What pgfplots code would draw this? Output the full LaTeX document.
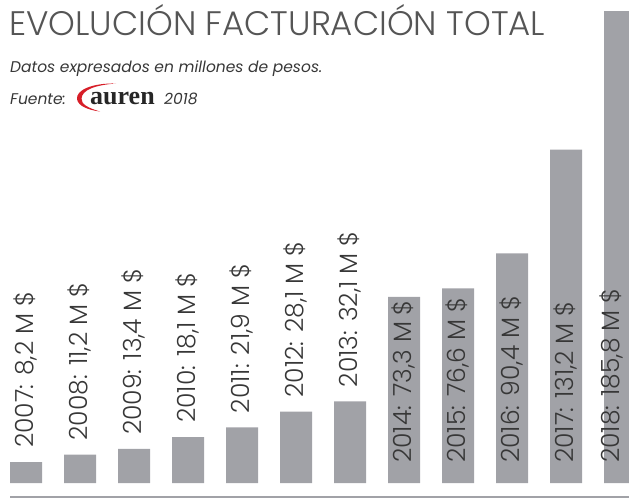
\documentclass[border=0pt]{standalone}
\usepackage{pgfplots}
\pgfplotsset{compat=1.18}
\usepackage{fontspec}
\setmainfont{Poppins}
\IfFontExistsTF{Poppins Light}{\newfontfamily\lightfont{Poppins Light}}{\newfontfamily\lightfont{Poppins}}
\newfontfamily\logofont{Liberation Serif}
\usetikzlibrary{calc}
\definecolor{bargray}{RGB}{161,162,167}
\definecolor{txt}{RGB}{55,55,55}
\definecolor{ttl}{RGB}{85,85,85}
\definecolor{aurenred}{RGB}{215,30,40}
\begin{document}
\begin{tikzpicture}
\useasboundingbox (0pt,0pt) rectangle (629pt,-499pt);
\begin{axis}[at={(10pt,-483pt)}, anchor=south west, scale only axis,
  width=619pt, height=472pt, hide axis,
  xmin=-0.2963, xmax=11.1667, ymin=0, ymax=185.8,
  bar width=0.5926, clip=true]
\addplot[ybar, fill=bargray, draw=none] coordinates {
 (0,8.2) (1,11.2) (2,13.4) (3,18.1) (4,21.9) (5,28.1) (6,32.1)
 (7,73.3) (8,76.6) (9,90.4) (10,131.2) (11,185.8)};
\tikzset{lbl/.style={rotate=90, anchor=west, inner sep=0pt, text=txt, font=\lightfont\fontsize{25}{25}\selectfont}}
\node[lbl] at ($(axis cs:0,8.2)+(-1pt,14pt)$) {2007: 8,2 M \$};
\node[lbl] at ($(axis cs:1,11.2)+(-1pt,14pt)$) {2008: 11,2 M \$};
\node[lbl] at ($(axis cs:2,13.4)+(-1pt,14pt)$) {2009: 13,4 M \$};
\node[lbl] at ($(axis cs:3,18.1)+(-1pt,14pt)$) {2010: 18,1 M \$};
\node[lbl] at ($(axis cs:4,21.9)+(-1pt,14pt)$) {2011: 21,9 M \$};
\node[lbl] at ($(axis cs:5,28.1)+(-1pt,14pt)$) {2012: 28,1 M \$};
\node[lbl] at ($(axis cs:6,32.1)+(-1pt,14pt)$) {2013: 32,1 M \$};
\node[lbl] at ($(axis cs:7,0)+(-1pt,20pt)$) {2014: 73,3 M \$};
\node[lbl] at ($(axis cs:8,0)+(-1pt,20pt)$) {2015: 76,6 M \$};
\node[lbl] at ($(axis cs:9,0)+(-1pt,20pt)$) {2016: 90,4 M \$};
\node[lbl] at ($(axis cs:10,0)+(-1pt,20pt)$) {2017: 131,2 M \$};
\node[lbl] at ($(axis cs:11,0)+(-8.5pt,20pt)$) {2018: 185,8 M \$};
\end{axis}
\draw[bargray, line width=2pt] (10pt,-497pt) -- (629pt,-497pt);
\node[anchor=base west, inner sep=0pt, text=ttl, font=\lightfont\fontsize{34}{34}\selectfont] at (9pt,-35pt) {EVOLUCIÓN FACTURACIÓN TOTAL};
\node[anchor=base west, inner sep=0pt, text=txt, font=\itshape\fontsize{15.5}{15.5}\selectfont] at (10pt,-72pt) {Datos expresados en millones de pesos.};
\node[anchor=base west, inner sep=0pt, text=txt, font=\itshape\fontsize{15.5}{15.5}\selectfont] at (10pt,-104pt) {Fuente:};
\fill[aurenred] (116pt,-83.5pt) .. controls (92pt,-83pt) and (76pt,-90pt) .. (77pt,-99pt) .. controls (78pt,-106pt) and (88pt,-110pt) .. (100pt,-111.5pt) .. controls (88pt,-108pt) and (81pt,-104pt) .. (81.5pt,-98.5pt) .. controls (82pt,-90pt) and (95pt,-85pt) .. (116pt,-83.5pt) -- cycle;
\node[anchor=base west, inner sep=0pt, text=black!85, font=\logofont\bfseries\fontsize{26}{26}\selectfont] at (90pt,-104pt) {auren};
\node[anchor=base west, inner sep=0pt, text=txt, font=\itshape\fontsize{15.5}{15.5}\selectfont] at (164pt,-104pt) {2018};
\end{tikzpicture}
\end{document}
